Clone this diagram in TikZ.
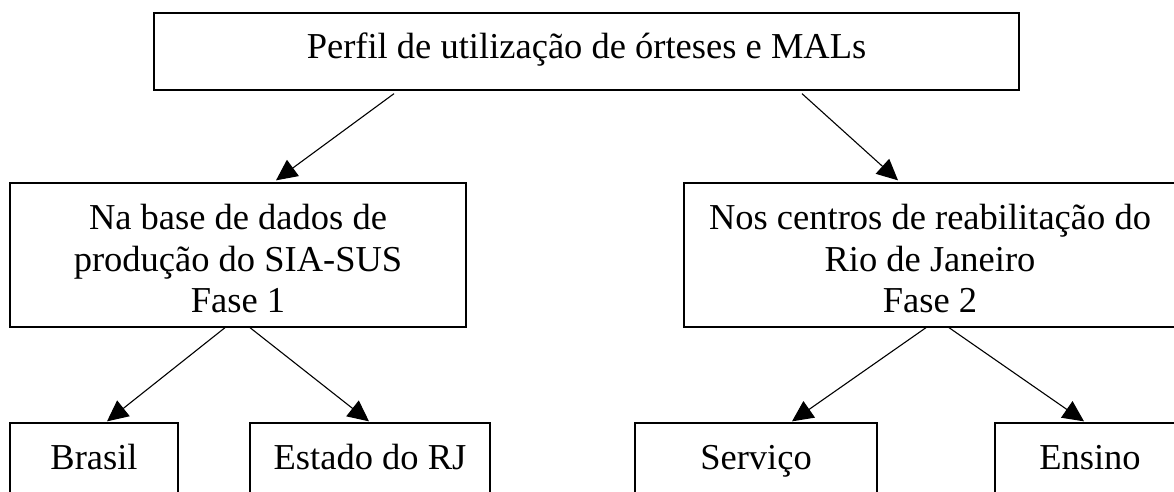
\documentclass[tikz,border=0pt]{standalone}
\usepackage{fontspec}
\setmainfont{Liberation Serif}
\usetikzlibrary{arrows.meta}
\begin{document}
\begin{tikzpicture}[x=1pt,y=-1pt,
  box/.style={draw=black, line width=1.3pt, rectangle, inner sep=0pt,
    align=center, font=\fontsize{36.5}{41.5}\selectfont},
  arr/.style={draw=black, line width=1.1pt, -{Triangle[length=21pt,width=20pt]}}]
\useasboundingbox (0,0) rectangle (1174,491);
\clip (0,0) rectangle (1174,491);
\fill[white] (0,0) rectangle (1174,491);
% top box
\node[box, minimum width=865pt, minimum height=77pt, text height=25pt, text depth=12pt]
  (top) at (586.5,51.5) {Perfil de utilização de órteses e MALs};
% middle boxes
\node[box, minimum width=456pt, minimum height=144pt]
  (left) at (238,255) {\rule{0pt}{33pt}Na base de dados de\\produção do SIA-SUS\\Fase 1};
\node[box, minimum width=492pt, minimum height=144pt]
  (right) at (930,255) {\rule{0pt}{33pt}Nos centros de reabilitação do\\Rio de Janeiro\\Fase 2};
% bottom boxes
\node[box, minimum width=168pt, minimum height=92pt, text height=25pt, text depth=25pt]
  (brasil) at (94,469) {Brasil};
\node[box, minimum width=240pt, minimum height=92pt, text height=25pt, text depth=25pt]
  (estado) at (370,469) {Estado do RJ};
\node[box, minimum width=242pt, minimum height=92pt, text height=25pt, text depth=25pt]
  (servico) at (756,469) {Serviço};
\node[box, minimum width=190pt, minimum height=92pt, text height=25pt, text depth=25pt]
  (ensino) at (1090,469) {Ensino};
% connectors
\draw[arr] ([xshift=-192.5pt,yshift=-3pt]top.south) -- ([xshift=38pt,yshift=2pt]left.north);
\draw[arr] ([xshift=215.5pt,yshift=-3pt]top.south) -- ([xshift=-32pt,yshift=2pt]right.north);
\draw[arr] ([xshift=-13pt]left.south) -- ([xshift=13pt,yshift=1pt]brasil.north);
\draw[arr] ([xshift=12pt]left.south) -- ([xshift=-1pt,yshift=1pt]estado.north);
\draw[arr] ([xshift=-4pt]right.south) -- ([xshift=36pt,yshift=1pt]servico.north);
\draw[arr] ([xshift=19pt]right.south) -- ([xshift=-6pt,yshift=1pt]ensino.north);
\end{tikzpicture}
\end{document}
